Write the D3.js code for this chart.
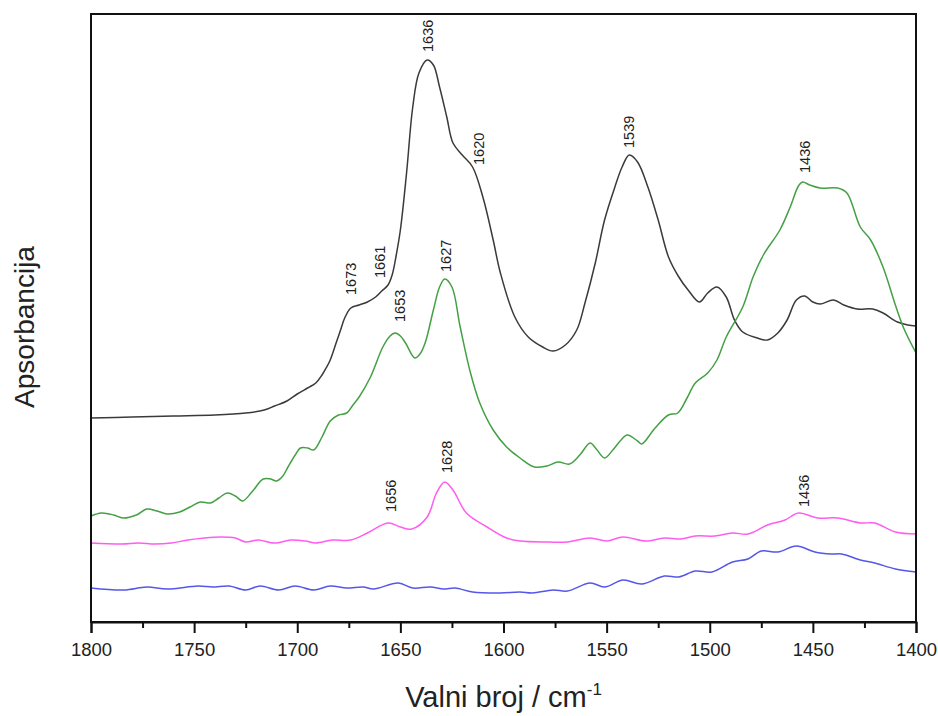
<!DOCTYPE html>
<html>
<head>
<meta charset="utf-8">
<script src="https://cdn.jsdelivr.net/npm/d3@7"></script>
<style>
  html, body { margin: 0; padding: 0; background: #fff; }
  svg { display: block; font-family: Arial, "Liberation Sans", sans-serif; }
</style>
</head>
<body>
<svg id="chart" width="938" height="716"></svg>
<script>
// ---- Data (wavenumber in cm^-1, absorbance in arbitrary units) ----
const blackWn  = [1800,1780,1760,1740,1725,1716,1711,1705,1700,1695,1691,1688,1686,1684,1681,1679,1677,1674,1670,1666,1662,1659,1656,1654,1652,1650,1647,1644,1641,1637,1634,1631,1627.5,1624.5,1620,1615,1610,1605,1601.5,1594.5,1588,1581,1576,1570,1564.5,1560.5,1555.5,1551,1546,1542.5,1539,1535,1530,1525,1520,1515,1510.5,1505,1501,1496.5,1492,1488,1484,1477,1472,1467,1462.5,1458,1454,1450,1446.5,1440,1435,1428.5,1421,1416,1409,1404,1400];
const blackVal = [204,205,206,207,209,212,216,221,228,234,239,247,254,262,280,292,304,314,317,320,325,331,337,347,367,392,449,515,549,562,557,535,505,479,467,455,425,382,349,305,285,275,271,277,292,319,359,402,435,455,467,460,435,402,365,345,332,320,329,335,325,302,290,284,282,289,302,322,326,320,318,322,317,313,313,309,300,297,296];

const greenWn  = [1800,1795,1789,1784.5,1778,1773,1768,1763,1757,1752,1747,1742,1738,1734,1730,1726.5,1722,1716.5,1713,1710,1707,1704.5,1701,1698.5,1695,1692,1688,1684,1680,1676,1673,1670,1664.5,1658.5,1655,1652.5,1650,1647.5,1643,1640.5,1638,1634,1631,1628.5,1625,1621,1616,1611.5,1605,1598.5,1592,1585,1579,1573.5,1568,1563,1558,1555,1551,1547,1543,1540,1535,1533,1526.5,1520,1515.5,1511,1507,1501,1496.5,1492,1484,1479,1474,1466,1461,1457,1455,1451.5,1446.5,1438,1433.5,1427,1422,1416,1410,1406,1400];
const greenVal = [106,109,107,104,107,113,111,108,110,115,120,119,124,129,126,121,130,143,143,141,146,155,167,174,174,172,185,201,207,209,217,225,245,275,286,289,286,279,264,268,279,312,335,343,335,295,249,219,192,175,164,155,156,160,158,167,179,173,164,172,182,187,181,178,194,207,209,224,239,249,262,285,315,345,367,392,415,436,440,437,434,434,429,395,382,355,317,294,269];

const pinkWn  = [1800,1785,1777,1769,1761,1753,1745,1737,1730,1725,1719,1711,1703,1696,1691,1683,1674,1666,1656,1650,1644.5,1637,1632.5,1628.5,1624.5,1618,1608,1598.5,1592,1578,1569,1558,1550,1542,1531,1522,1514,1507,1497.5,1489,1481.5,1472,1463.5,1457,1447.5,1438,1427,1420,1410,1400];
const pinkVal = [79,78,79,78,79,82,84,85,84,80,82,79,82,81,79,82,82,89,99,95,93,105,129,140,132,109,95,84,81,80,80,84,81,85,81,84,83,86,86,89,88,97,102,109,104,104,99,99,90,88];

const blueWn  = [1800,1784,1773,1763,1748,1741,1733,1725,1718,1709,1701,1692,1684,1676,1668,1663,1651,1644,1635.5,1629,1623.5,1615,1601.5,1592,1586,1576,1569,1558,1551,1542,1533,1522,1515,1507,1499,1489,1481.5,1475,1467,1458,1449,1441,1436,1427,1420,1410,1400];
const blueVal = [34,32,35,33,36,35,36,32,36,32,36,32,36,34,35,33,39,34,35,33,34,30,29,30,29,32,31,39,35,42,38,46,45,51,50,60,63,71,70,76,70,68,68,62,59,53,50];

const seriesNames  = ["black", "green", "pink", "blue"];
const seriesColors = ["#3a3a3a", "#44a044", "#ff5cf0", "#5656e8"];

const xTickValues   = [1800,1750,1700,1650,1600,1550,1500,1450,1400];
const xMinorValues  = [1775,1725,1675,1625,1575,1525,1475,1425];

// Peak annotations
const annotText   = ["1636","1673","1661","1653","1627","1620","1539","1436","1656","1628","1436"];
const annotWn     = [1636.6,1673.9,1659.9,1650.2,1627.9,1612.1,1539.2,1453.8,1654.8,1627.6,1454.3];
const annotVal    = [570,327,344,300,350,457,474,449,110,149,115];

// ---- Layout ----
const W = 938, H = 716;
const margin = {left: 91, right: 22, top: 14, bottom: 94};
const svg = d3.select("#chart");

const x = d3.scaleLinear().domain([1800, 1400]).range([margin.left, W - margin.right]);
const y = d3.scaleLinear().domain([0, 608]).range([H - margin.bottom, margin.top]);

const series = [
  {wn: blackWn, val: blackVal},
  {wn: greenWn, val: greenVal},
  {wn: pinkWn,  val: pinkVal},
  {wn: blueWn,  val: blueVal}
];

const line = d3.line()
  .x(d => x(d[0]))
  .y(d => y(d[1]))
  .curve(d3.curveCatmullRom.alpha(0.5));

const g = svg.append("g");

series.forEach((s, i) => {
  const pts = s.wn.map((w, k) => [w, s.val[k]]);
  g.append("path")
    .datum(pts)
    .attr("fill", "none")
    .attr("stroke", seriesColors[i])
    .attr("stroke-width", 1.5)
    .attr("stroke-linejoin", "round")
    .attr("d", line)
    .attr("class", "series-" + seriesNames[i]);
});

// Annotations
annotText.forEach((t, i) => {
  const px = x(annotWn[i]), py = y(annotVal[i]);
  g.append("text")
    .attr("transform", `translate(${px},${py}) rotate(-90)`)
    .attr("dy", "0.36em")
    .attr("text-anchor", "start")
    .attr("font-size", 14.5)
    .attr("fill", "#222")
    .text(t);
});

// Frame
const x0 = margin.left, x1 = W - margin.right, y0 = margin.top, y1 = H - margin.bottom;
svg.append("rect")
  .attr("x", x0).attr("y", y0)
  .attr("width", x1 - x0).attr("height", y1 - y0)
  .attr("fill", "none").attr("stroke", "#111").attr("stroke-width", 2);

// Bottom axis
const xAxis = d3.axisBottom(x)
  .tickValues(xTickValues)
  .tickSize(11)
  .tickPadding(10)
  .tickFormat(d3.format("d"));
const axG = svg.append("g").attr("transform", `translate(0,${y1})`).call(xAxis);
axG.select(".domain").attr("stroke", "#111").attr("stroke-width", 2);
axG.selectAll(".tick line").attr("stroke", "#111").attr("stroke-width", 2);
axG.selectAll(".tick text").attr("font-size", 18.5).attr("fill", "#222")
  .attr("font-family", 'Arial, "Liberation Sans", sans-serif');

const minorG = svg.append("g").attr("transform", `translate(0,${y1})`)
  .call(d3.axisBottom(x).tickValues(xMinorValues).tickSize(6).tickFormat(""));
minorG.select(".domain").remove();
minorG.selectAll(".tick line").attr("stroke", "#111").attr("stroke-width", 2);

// Axis titles
const xt = svg.append("text")
  .attr("x", (x0 + x1) / 2)
  .attr("y", 707)
  .attr("text-anchor", "middle")
  .attr("font-size", 29)
  .attr("fill", "#222");
xt.append("tspan").text("Valni broj / cm");
xt.append("tspan").attr("dy", -12).attr("font-size", 17).text("-1");

svg.append("text")
  .attr("transform", `translate(34,${(y0 + y1) / 2 + 9}) rotate(-90)`)
  .attr("text-anchor", "middle")
  .attr("font-size", 28)
  .attr("fill", "#222")
  .text("Apsorbancija");
</script>
</body>
</html>
